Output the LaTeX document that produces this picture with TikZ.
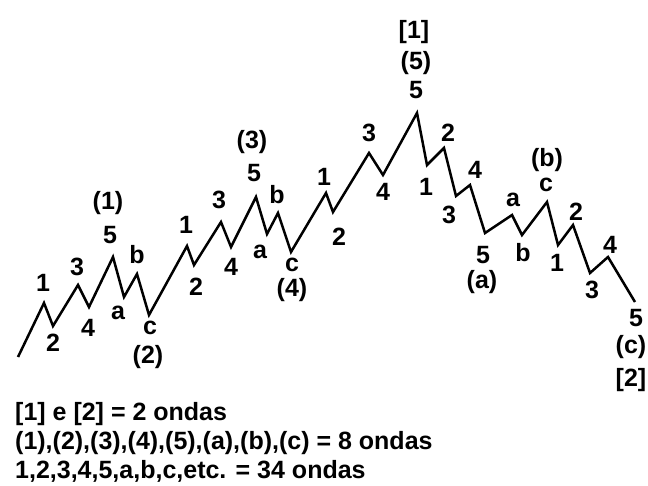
\documentclass[tikz,border=0pt]{standalone}
\usepackage{fontspec}
\setmainfont{Liberation Sans}
\usetikzlibrary{positioning}
\tikzset{
  wave/.style ={draw,line width=2.5pt,line join=miter,miter limit=20},
  lbl/.style  ={inner sep=0pt,font=\fontsize{25}{29}\selectfont\bfseries},
  note/.style ={inner sep=0pt,anchor=base west,font=\fontsize{25}{29}\selectfont\bfseries},
}

\begin{document}
\begin{tikzpicture}[x=1pt,y=-1pt]
\useasboundingbox[fill=white] (0,0) rectangle (648,485);
% turning points of the wave
\coordinate (w0) at (18,357);  \coordinate (w1) at (44,303);  \coordinate (w2) at (53,326);
\coordinate (w3) at (78,285);  \coordinate (w4) at (89,307);  \coordinate (w5) at (113,257);
\coordinate (w6) at (124,297); \coordinate (w7) at (137,274); \coordinate (w8) at (149,315);
\coordinate (w9) at (187,246); \coordinate (w10) at (194,265); \coordinate (w11) at (221,222);
\coordinate (w12) at (231,247); \coordinate (w13) at (256,197); \coordinate (w14) at (267,234);
\coordinate (w15) at (278,213); \coordinate (w16) at (291,252); \coordinate (w17) at (326,193);
\coordinate (w18) at (333,212); \coordinate (w19) at (369,153); \coordinate (w20) at (383,175);
\coordinate (w21) at (417,113); \coordinate (w22) at (427,165); \coordinate (w23) at (444,148);
\coordinate (w24) at (456,196); \coordinate (w25) at (470,185); \coordinate (w26) at (485,233);
\coordinate (w27) at (512,215); \coordinate (w28) at (522,235); \coordinate (w29) at (547,202);
\coordinate (w30) at (558,245); \coordinate (w31) at (573,225); \coordinate (w32) at (590,273);
\coordinate (w33) at (608,257); \coordinate (w34) at (635,302);
\draw[wave] (w0)--(w1)--(w2)--(w3)--(w4)--(w5)--(w6)--(w7)--(w8)--(w9)--(w10)--(w11)
  --(w12)--(w13)--(w14)--(w15)--(w16)--(w17)--(w18)--(w19)--(w20)--(w21)--(w22)--(w23)
  --(w24)--(w25)--(w26)--(w27)--(w28)--(w29)--(w30)--(w31)--(w32)--(w33)--(w34);
% wave (1) and (2)
\node[lbl] (a1) at (43,283) {1}; \node[lbl] (a2) at (53,343) {2};
\node[lbl] (a3) at (77,267) {3}; \node[lbl] (a4) at (88,328) {4};
\node[lbl] (a5) at (110,235) {5}; \node[lbl] (A1) at (108,203) {(1)};
\node[lbl] (aa) at (118,313) {a}; \node[lbl] (ab) at (137,255) {b};
\node[lbl] (ac) at (150,328) {c}; \node[lbl] (A2) at (148,357) {(2)};
% wave (3) and (4)
\node[lbl] (b1) at (186,225) {1}; \node[lbl] (b2) at (196,287) {2};
\node[lbl] (b3) at (219,200) {3}; \node[lbl] (b4) at (231,267) {4};
\node[lbl] (b5) at (254,173) {5}; \node[lbl] (A3) at (252,142) {(3)};
\node[lbl] (ba) at (260,252) {a}; \node[lbl] (bb) at (277,195) {b};
\node[lbl] (bc) at (292,265) {c}; \node[lbl] (A4) at (292,290) {(4)};
% wave (5), top [1]
\node[lbl] (c1) at (324,177) {1}; \node[lbl] (c2) at (339,237) {2};
\node[lbl] (c3) at (369,133) {3}; \node[lbl] (c4) at (383,192) {4};
\node[lbl] (c5) at (416,90) {5}; \node[lbl] (A5) at (416,63) {(5)};
\node[lbl] (T1) at (414,32) {[1]};
% wave (a)
\node[lbl] (d1) at (426,187) {1}; \node[lbl] (d2) at (448,133) {2};
\node[lbl] (d3) at (449,215) {3}; \node[lbl] (d4) at (475,170) {4};
\node[lbl] (d5) at (483,255) {5}; \node[lbl] (Aa) at (482,282) {(a)};
% wave (b)
\node[lbl] (ea) at (513,200) {a}; \node[lbl] (eb) at (523,253) {b};
\node[lbl] (ec) at (546,185) {c}; \node[lbl] (Ab) at (547,160) {(b)};
% wave (c), bottom [2]
\node[lbl] (f1) at (557,263) {1}; \node[lbl] (f2) at (576,212) {2};
\node[lbl] (f3) at (592,290) {3}; \node[lbl] (f4) at (610,245) {4};
\node[lbl] (f5) at (636,318) {5}; \node[lbl] (Ac) at (631,347) {(c)};
\node[lbl] (T2) at (631,380) {[2]};
% counting notes
\node[note] (n1) at (15,420) {[1] e [2] = 2 ondas};
\node[note] (n2) at (15,449) {(1),(2),(3),(4),(5),(a),(b),(c) = 8 ondas};
\node[note] (n3) at (15,478) {1,2,3,4,5,a,b,c,etc. = 34 ondas};
\end{tikzpicture}
\end{document}
